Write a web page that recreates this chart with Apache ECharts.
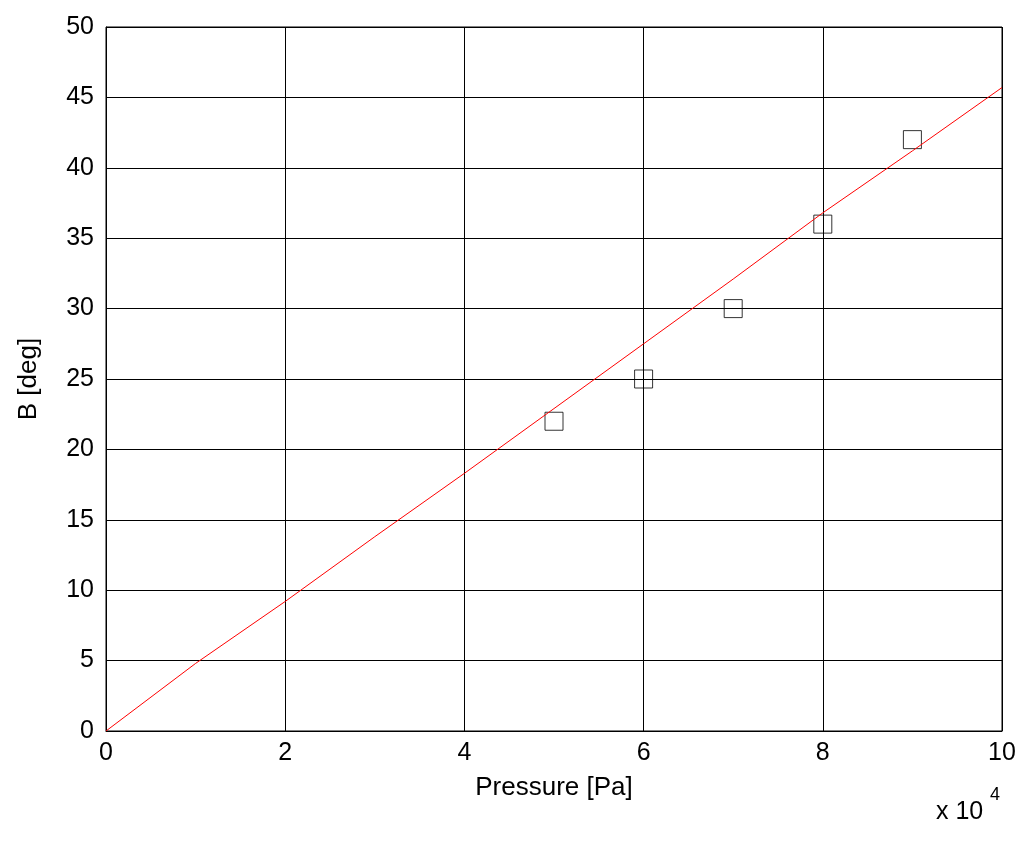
<!DOCTYPE html><html><head><meta charset="utf-8">
<script src="https://cdn.jsdelivr.net/npm/echarts@6/dist/echarts.min.js"></script>
<style>html,body{margin:0;background:#fff}#c{width:1024px;height:843px}</style></head><body><div id="c"></div>
<script>
const fitX=[0,1,2,3,4,5,6,7,8,9,10];
const fitY=[0,4.8,9.2,13.8,18.3,22.9,27.5,32.1,36.8,41.2,45.7];
const measX=[5,6,7,8,9];
const measY=[22,25,30,36,42];
const font='"Liberation Sans", Arial, sans-serif';
const c=echarts.init(document.getElementById('c'));
c.setOption({
 animation:false,
 grid:{left:106,right:22,top:27,bottom:112},
 xAxis:{type:'value',min:0,max:10,interval:2,name:'Pressure [Pa]',nameLocation:'middle',nameGap:44,
  nameTextStyle:{fontFamily:font,fontSize:26,color:'#000'},
  axisLine:{show:true,lineStyle:{color:'#000'}},axisTick:{inside:true,length:5,lineStyle:{color:'#000'}},
  axisLabel:{fontFamily:font,fontSize:25,color:'#000',margin:10},
  splitLine:{lineStyle:{color:'#000',width:1}}},
 yAxis:{type:'value',min:0,max:50,interval:5,name:'B [deg]',nameLocation:'middle',nameGap:64,
  nameTextStyle:{fontFamily:font,fontSize:26,color:'#000'},
  axisLine:{show:true,lineStyle:{color:'#000'}},axisTick:{inside:true,length:5,lineStyle:{color:'#000'}},
  axisLabel:{fontFamily:font,fontSize:25,color:'#000',margin:12},
  splitLine:{lineStyle:{color:'#000',width:1}}},
 graphic:[{type:'rect',shape:{x:106,y:27,width:896,height:704},style:{fill:'none',stroke:'#000',lineWidth:1}},
  {type:'text',left:936,top:800,style:{text:'x 10',font:'25px '+font,fill:'#000'}},
  {type:'text',left:990,top:786,style:{text:'4',font:'18px '+font,fill:'#000'}}],
 series:[
  {type:'line',data:fitX.map((x,i)=>[x,fitY[i]]),symbol:'none',lineStyle:{color:'#ff0000',width:1}},
  {type:'scatter',data:measX.map((x,i)=>[x,measY[i]]),symbol:'rect',symbolSize:18,
   itemStyle:{color:'rgba(0,0,0,0)',borderColor:'#000',borderWidth:1}}
 ]});
</script></body></html>
